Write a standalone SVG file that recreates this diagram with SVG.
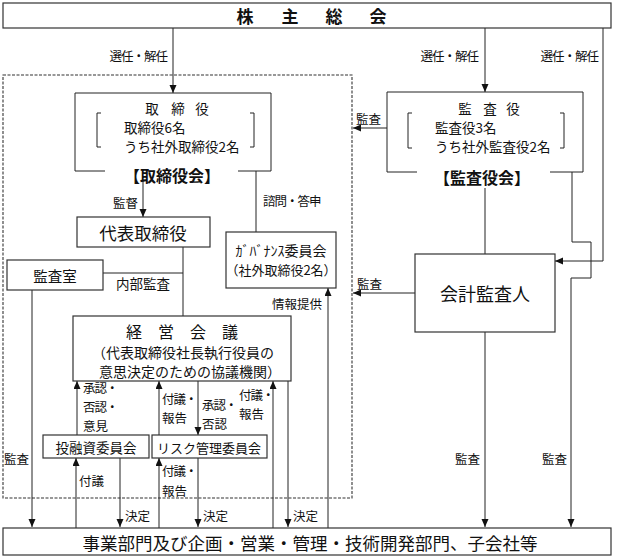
<svg xmlns="http://www.w3.org/2000/svg" width="620" height="558" viewBox="0 0 620 558">
<defs>
<style>
text{font-family:"Noto Sans CJK JP","Noto Sans CJK SC",sans-serif;fill:#111;dominant-baseline:central}
.box{fill:#fff;stroke:#333;stroke-width:1.2}
.ln{fill:none;stroke:#222;stroke-width:1}
.arr{fill:none;stroke:#222;stroke-width:1;marker-end:url(#ah)}
.s12{font-size:12.5px}
.s13{font-size:13.5px}
.tight{letter-spacing:-1px}
.mid{text-anchor:middle}
.end{text-anchor:end}
.b{font-weight:bold}
</style>
<marker id="ah" markerUnits="userSpaceOnUse" markerWidth="8" markerHeight="8" refX="8" refY="3.5" orient="auto">
<path d="M0,0 L8,3.5 L0,7 z" fill="#111"/>
</marker>
</defs>
<rect width="620" height="558" fill="#fff"/>

<rect id="group-frame" x="3" y="75" width="349" height="423" fill="none" stroke="#333" stroke-width="1.1" stroke-dasharray="3,1.5"/>

<g id="connectors">
<path class="arr" d="M173,28 V93"/>
<path class="arr" d="M485,28 V92"/>
<path class="arr" d="M603,28 V261 H555"/>
<path class="arr" d="M387,128 H353"/>
<path class="arr" d="M572,172 V242 H591 V278 H571 V527"/>
<path class="ln" d="M485,188 V254"/>
<path class="arr" d="M415,293 H353"/>
<path class="arr" d="M485,332 V527"/>
<path class="arr" d="M143,181 V217"/>
<path class="ln" d="M256,171 V232"/>
<path class="ln" d="M183,247 V316"/>
<path class="ln" d="M103,273 H183"/>
<path class="arr" d="M32,290 V527"/>
<path class="arr" d="M328,528 V288"/>
<path class="arr" d="M77,435 V381"/>
<path class="arr" d="M159,435 V381"/>
<path class="arr" d="M198,381 V435"/>
<path class="arr" d="M273,528 V381"/>
<path class="arr" d="M288,381 V527"/>
<path class="arr" d="M76,528 V458"/>
<path class="arr" d="M120,458 V527"/>
<path class="arr" d="M159,528 V458"/>
<path class="arr" d="M198,458 V527"/>
<text class="s12 end tight" x="167" y="55">選任・解任</text>
<text class="s12 end tight" x="478" y="55">選任・解任</text>
<text class="s12 end tight" x="598" y="55">選任・解任</text>
<text class="s12" x="356" y="118">監査</text>
<text class="s12" x="357" y="283">監査</text>
<text class="s12" x="455" y="458">監査</text>
<text class="s12" x="542" y="458">監査</text>
<text class="s12" x="4" y="458">監査</text>
<text class="s12 end" x="138" y="202">監督</text>
<text class="s12 tight" x="263" y="200">諮問・答申</text>
<text class="s12 end" x="322" y="303">情報提供</text>
<text class="s13" x="116" y="283">内部監査</text>
<text class="s12 tight" x="83" y="387">承認・</text>
<text class="s12 tight" x="83" y="406">否認・</text>
<text class="s12" x="83" y="425">意見</text>
<text class="s12 tight" x="162" y="398">付議・</text>
<text class="s12" x="162" y="417">報告</text>
<text class="s12 tight" x="202" y="404">承認・</text>
<text class="s12" x="202" y="423">否認</text>
<text class="s12 tight" x="239" y="394">付議・</text>
<text class="s12" x="239" y="413">報告</text>
<text class="s12" x="79" y="480">付議</text>
<text class="s12 tight" x="162" y="470">付議・</text>
<text class="s12" x="162" y="490">報告</text>
<text class="s12" x="125" y="515">決定</text>
<text class="s12" x="203" y="515">決定</text>
<text class="s12" x="293" y="515">決定</text>
</g>

<g id="node-shareholders">
<rect class="box" x="3" y="3" width="608" height="25"/>
<text class="mid b" x="245" y="15" font-size="17">株</text>
<text class="mid b" x="290" y="15" font-size="17">主</text>
<text class="mid b" x="334" y="15" font-size="17">総</text>
<text class="mid b" x="378" y="15" font-size="17">会</text>
</g>

<g id="node-board">
<path class="ln" d="M105,171 H75 V93 H271 V171 H238" stroke="#333" stroke-width="1.2"/>
<text class="s13 mid" x="152" y="108">取</text>
<text class="s13 mid" x="178" y="108">締</text>
<text class="s13 mid" x="202" y="108">役</text>
<path class="ln" d="M101,113 H97 V147 H101"/>
<path class="ln" d="M250,113 H254 V147 H250"/>
<text class="s13" x="124" y="127">取締役6名</text>
<text class="s13" x="124" y="146">うち社外取締役2名</text>
<text class="mid b" x="172" y="175" font-size="16">【取締役会】</text>
</g>

<g id="node-auditors">
<path class="ln" d="M417,172 H387 V92 H583 V172 H550" stroke="#333" stroke-width="1.2"/>
<text class="s13 mid" x="465" y="108">監</text>
<text class="s13 mid" x="490" y="108">査</text>
<text class="s13 mid" x="513" y="108">役</text>
<path class="ln" d="M412,113 H408 V148 H412"/>
<path class="ln" d="M560,113 H564 V148 H560"/>
<text class="s13" x="435" y="127">監査役3名</text>
<text class="s13" x="435" y="146">うち社外監査役2名</text>
<text class="mid b" x="482" y="177" font-size="16">【監査役会】</text>
</g>

<g id="node-representative">
<rect class="box" x="77" y="217" width="133" height="30"/>
<text class="mid" x="143" y="232" font-size="17.5">代表取締役</text>
</g>

<g id="node-governance">
<rect class="box" x="226" y="232" width="110" height="56"/>
<text class="mid" x="281" y="250" font-size="14">ｶﾞﾊﾞﾅﾝｽ委員会</text>
<text class="mid" x="281" y="269" font-size="13">（社外取締役2名）</text>
</g>

<g id="node-audit-office">
<rect class="box" x="7" y="260" width="96" height="30"/>
<text class="mid" x="55" y="275" font-size="14.5">監査室</text>
</g>

<g id="node-management">
<rect class="box" x="73" y="316" width="218" height="65"/>
<text class="mid" x="182" y="331" font-size="16">経　営　会　議</text>
<text x="92" y="352" font-size="14">（代表取締役社長執行役員の</text>
<text x="99" y="371" font-size="14">意思決定のための協議機関）</text>
</g>

<g id="node-investment">
<rect class="box" x="43" y="435" width="106" height="23"/>
<text class="mid" x="96" y="447" font-size="13.5">投融資委員会</text>
</g>

<g id="node-risk">
<rect class="box" x="152" y="435" width="115" height="23"/>
<text class="mid" x="209" y="447" font-size="13">リスク管理委員会</text>
</g>

<g id="node-accounting-auditor">
<rect class="box" x="415" y="254" width="140" height="78"/>
<text class="mid" x="485" y="293" font-size="18">会計監査人</text>
</g>

<g id="node-departments">
<rect class="box" x="3" y="528" width="608" height="27"/>
<text class="mid" x="310" y="542" font-size="17.5">事業部門及び企画・営業・管理・技術開発部門、子会社等</text>
</g>
</svg>
